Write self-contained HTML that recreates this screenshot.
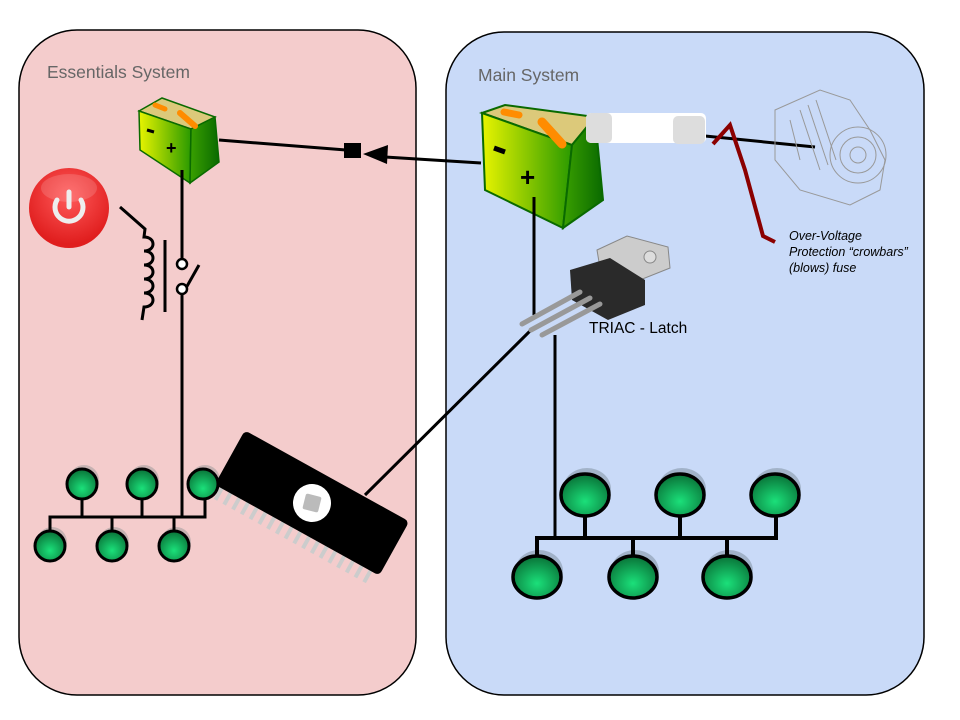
<!DOCTYPE html>
<html><head><meta charset="utf-8"><style>body{margin:0;background:#fff}svg{display:block}</style></head><body>
<svg width="960" height="720" viewBox="0 0 960 720" xmlns="http://www.w3.org/2000/svg" font-family="Liberation Sans, sans-serif">
<defs>
<radialGradient id="node" cx="0.5" cy="0.65" r="0.6"><stop offset="0" stop-color="#1be07a"/><stop offset="1" stop-color="#0a7a3c"/></radialGradient>
<linearGradient id="bat" x1="0" x2="1"><stop offset="0" stop-color="#e8f400"/><stop offset="1" stop-color="#2a9a00"/></linearGradient>
<linearGradient id="batside" x1="0" x2="1"><stop offset="0" stop-color="#3aa000"/><stop offset="1" stop-color="#0a6a00"/></linearGradient>
<radialGradient id="red" cx="0.5" cy="0.35" r="0.6"><stop offset="0" stop-color="#ff5a5a"/><stop offset="1" stop-color="#e01e1e"/></radialGradient>
</defs>
<rect x="19" y="30" width="397" height="665" rx="58" fill="#f4cccc" stroke="#000" stroke-width="1.5"/>
<rect x="446" y="32" width="478" height="663" rx="58" fill="#c9daf8" stroke="#000" stroke-width="1.5"/>
<text x="47" y="78" font-size="17.5" fill="#666">Essentials System</text>
<text x="478" y="81" font-size="17.5" fill="#666">Main System</text>

<!-- small battery -->
<g stroke="#0a6a00" stroke-width="1.5">
<path d="M139,111 L162,98 L215,117 L191,129 Z" fill="#dcc97a"/>
<path d="M139,111 L191,129 L190,183 L140,150 Z" fill="url(#bat)"/>
<path d="M191,129 L215,117 L219,162 L190,183 Z" fill="url(#batside)"/>
</g>
<path d="M155,105 l10,4" stroke="#ff8c00" stroke-width="5" stroke-linecap="round"/>
<path d="M180,113 l15,13" stroke="#ff8c00" stroke-width="6" stroke-linecap="round"/>
<line x1="147" y1="130" x2="154" y2="132" stroke="#000" stroke-width="3"/>
<text x="166" y="154" font-size="18" font-weight="bold">+</text>

<!-- big battery -->
<g stroke="#0a6a00" stroke-width="2">
<path d="M482,113 L505,105 L595,117 L572,145 Z" fill="#dcc97a"/>
<path d="M482,113 L572,145 L563,228 L485,190 Z" fill="url(#bat)"/>
<path d="M572,145 L595,117 L603,200 L563,228 Z" fill="url(#batside)"/>
</g>
<path d="M504,112 l15,3" stroke="#ff8c00" stroke-width="7" stroke-linecap="round"/>
<path d="M542,122 l20,22" stroke="#ff8c00" stroke-width="9" stroke-linecap="round"/>
<line x1="494" y1="148" x2="505" y2="152" stroke="#000" stroke-width="5"/>
<text x="520" y="186" font-size="26" font-weight="bold">+</text>

<!-- connectors -->
<g stroke="#000" stroke-width="3" fill="none">
<line x1="219" y1="140" x2="346" y2="150"/>
<line x1="385" y1="157" x2="481" y2="163"/>
<line x1="182" y1="170" x2="182" y2="260"/>
<line x1="182" y1="294" x2="182" y2="517"/>
<line x1="534" y1="197" x2="534" y2="315"/>
<line x1="555" y1="335" x2="555" y2="538"/>
<line x1="365" y1="495" x2="530" y2="331"/>
<line x1="705" y1="136" x2="815" y2="147"/>
</g>
<rect x="344" y="143" width="17" height="15" fill="#000"/>
<polygon points="363,154 388,145 387,164" fill="#000"/>

<!-- power button -->
<circle cx="69" cy="208" r="40" fill="url(#red)"/>
<ellipse cx="69" cy="188" rx="28" ry="14" fill="#fff" opacity="0.15"/>
<path d="M57,200 a14,14 0 1 0 24,0" stroke="#eee" stroke-width="5" fill="none" stroke-linecap="round"/>
<line x1="69" y1="192" x2="69" y2="207" stroke="#eee" stroke-width="5" stroke-linecap="round"/>

<!-- relay -->
<g stroke="#000" stroke-width="3" fill="none">
<path d="M120,207 L145,229 L144,237 c12,0 12,14 0,14 c12,0 12,14 0,14 c12,0 12,14 0,14 c12,0 12,14 0,14 c12,0 12,14 0,14 L142,320"/>
<line x1="165" y1="240" x2="165" y2="312"/>
<line x1="186" y1="288" x2="199" y2="265"/>
</g>
<circle cx="182" cy="264" r="5" fill="#fff" stroke="#000" stroke-width="2.5"/>
<circle cx="182" cy="289" r="5" fill="#fff" stroke="#000" stroke-width="2.5"/>

<!-- left network -->
<g fill="#999" opacity="0.5">
<circle cx="84" cy="480" r="15"/><circle cx="144" cy="480" r="15"/><circle cx="205" cy="480" r="15"/>
<circle cx="52" cy="542" r="15"/><circle cx="114" cy="542" r="15"/><circle cx="176" cy="542" r="15"/>
</g>
<g stroke="#000" stroke-width="3" fill="none">
<path d="M50,546 L50,517 L205,517 L205,484"/>
<line x1="82" y1="484" x2="82" y2="517"/><line x1="142" y1="484" x2="142" y2="517"/>
<line x1="112" y1="517" x2="112" y2="546"/><line x1="174" y1="517" x2="174" y2="546"/>
</g>
<g fill="url(#node)" stroke="#000" stroke-width="3">
<circle cx="82" cy="484" r="15"/><circle cx="142" cy="484" r="15"/><circle cx="203" cy="484" r="15"/>
<circle cx="50" cy="546" r="15"/><circle cx="112" cy="546" r="15"/><circle cx="174" cy="546" r="15"/>
</g>

<!-- chip -->
<g transform="translate(312,503) rotate(29)">
<g fill="#ccc">
<rect x="-88" y="28" width="4" height="16"/><rect x="-78" y="28" width="4" height="16"/><rect x="-68" y="28" width="4" height="16"/><rect x="-58" y="28" width="4" height="16"/><rect x="-48" y="28" width="4" height="16"/><rect x="-38" y="28" width="4" height="16"/><rect x="-28" y="28" width="4" height="16"/><rect x="-18" y="28" width="4" height="16"/><rect x="-8" y="28" width="4" height="16"/><rect x="2" y="28" width="4" height="16"/><rect x="12" y="28" width="4" height="16"/><rect x="22" y="28" width="4" height="16"/><rect x="32" y="28" width="4" height="16"/><rect x="42" y="28" width="4" height="16"/><rect x="52" y="28" width="4" height="16"/><rect x="62" y="28" width="4" height="16"/><rect x="72" y="28" width="4" height="16"/><rect x="82" y="28" width="4" height="16"/>
</g>
<rect x="-94" y="-31" width="188" height="62" rx="5" fill="#000"/>
<circle cx="0" cy="0" r="19" fill="#fff"/>
<rect x="-8" y="-8" width="16" height="16" rx="2" fill="#bbb" transform="rotate(-15)"/>
</g>

<!-- fuse -->
<rect x="586" y="113" width="120" height="30" rx="5" fill="#fff"/>
<rect x="586" y="113" width="26" height="30" rx="5" fill="#ddd"/>
<rect x="673" y="116" width="32" height="28" rx="5" fill="#ddd"/>
<!-- crowbar -->
<path d="M713,144 L730,125 L745,170 L763,236 L775,242" stroke="#8b0000" stroke-width="4" fill="none"/>
<!-- alternator -->
<g stroke="#999" stroke-width="1" fill="none">
<path d="M775,110 L820,90 L850,100 L870,130 L885,160 L880,190 L850,205 L800,190 L775,160 Z"/>
<circle cx="858" cy="155" r="28"/><circle cx="858" cy="155" r="18"/><circle cx="858" cy="155" r="8"/>
<path d="M800,110 l20,60 M808,105 l20,60 M816,100 l20,60 M790,120 l10,40"/>
</g>
<text font-size="12.5" font-style="italic" fill="#000"><tspan x="789" y="240">Over-Voltage</tspan><tspan x="789" y="256">Protection “crowbars”</tspan><tspan x="789" y="272">(blows) fuse</tspan></text>

<!-- triac -->
<path d="M597,250 L627,236 L668,247 L670,268 L640,280 L600,268 Z" fill="#ccc" stroke="#888"/>
<circle cx="650" cy="257" r="6" fill="#ddd" stroke="#888"/>
<path d="M570,270 L610,258 L645,280 L645,305 L608,320 L572,300 Z" fill="#2a2a2a"/>
<g stroke="#999" stroke-width="5" stroke-linecap="round">
<line x1="522" y1="324" x2="580" y2="292"/><line x1="531" y1="330" x2="590" y2="298"/><line x1="542" y1="335" x2="600" y2="304"/>
</g>
<text x="589" y="333" font-size="15.5">TRIAC - Latch</text>

<!-- right network -->
<g fill="#8899aa" opacity="0.6">
<ellipse cx="587" cy="489" rx="24" ry="21"/><ellipse cx="682" cy="489" rx="24" ry="21"/><ellipse cx="777" cy="489" rx="24" ry="21"/>
<ellipse cx="539" cy="571" rx="24" ry="21"/><ellipse cx="635" cy="571" rx="24" ry="21"/><ellipse cx="729" cy="571" rx="24" ry="21"/>
</g>
<g stroke="#000" stroke-width="4" fill="none">
<path d="M537,577 L537,538 L776,538 L776,495"/>
<line x1="585" y1="495" x2="585" y2="538"/><line x1="680" y1="495" x2="680" y2="538"/>
<line x1="633" y1="538" x2="633" y2="577"/><line x1="727" y1="538" x2="727" y2="577"/>
</g>
<g fill="url(#node)" stroke="#000" stroke-width="3.5">
<ellipse cx="585" cy="495" rx="24" ry="21"/><ellipse cx="680" cy="495" rx="24" ry="21"/><ellipse cx="775" cy="495" rx="24" ry="21"/>
<ellipse cx="537" cy="577" rx="24" ry="21"/><ellipse cx="633" cy="577" rx="24" ry="21"/><ellipse cx="727" cy="577" rx="24" ry="21"/>
</g>
</svg>
</body></html>
